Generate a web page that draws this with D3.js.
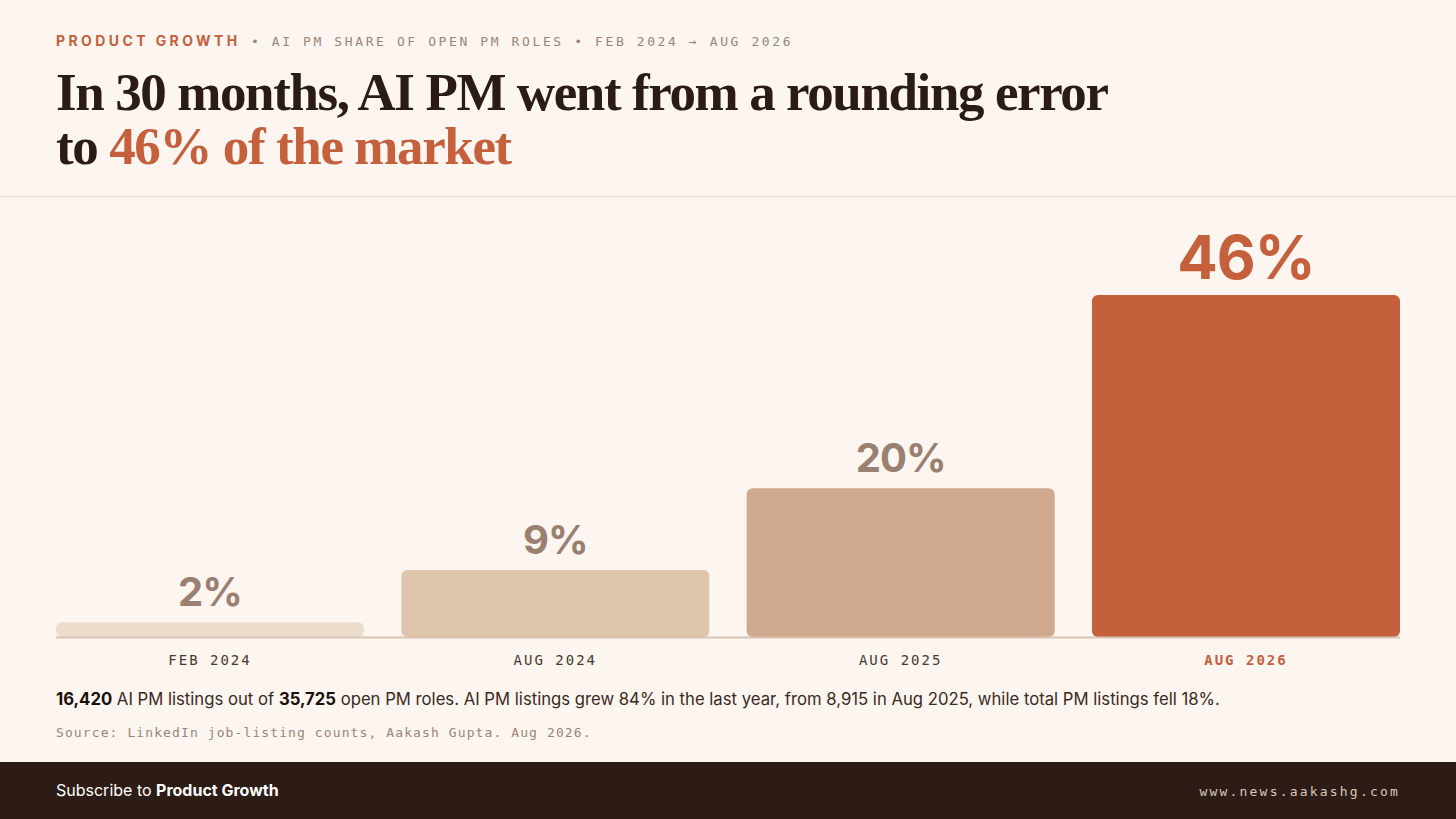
<!DOCTYPE html>
<html><head><meta charset="utf-8">
<script src="https://cdn.jsdelivr.net/npm/d3@7"></script>
<style>body{margin:0;background:#fcf5f0;}svg{display:block}</style>
</head><body>
<svg id="c" width="1456" height="819"></svg>
<script>
const categories = ["FEB 2024","AUG 2024","AUG 2025","AUG 2026"];
const values = [2, 9, 20, 46];
const labels = ["2%","9%","20%","46%"];
const barColors = ["#ecdccb","#e0c5ad","#cfaa8e","#c5603c"];
const labelColors = ["#9a8070","#9a8070","#9a8070","#c5603c"];

const svg = d3.select("#c");
const W = 1456;
const mono = "'DejaVu Sans Mono', monospace";
const sans = "Inter, 'Noto Sans', sans-serif";
const serif = "'Liberation Serif', serif";

svg.append("rect").attr("width",W).attr("height",819).attr("fill","#fcf5f0");

const kick = svg.append("text").attr("x",56).attr("y",46).attr("font-family",mono).attr("font-size",14).attr("letter-spacing",2);
kick.append("tspan").attr("fill","#c5603c").attr("font-weight","bold").attr("font-family",sans).attr("letter-spacing",3.4).text("PRODUCT GROWTH");
kick.append("tspan").attr("fill","#9a8578").attr("font-size",13).attr("letter-spacing",2.6).text("  •  AI PM SHARE OF OPEN PM ROLES  •  FEB 2024 → AUG 2026");

svg.append("text").attr("x",56).attr("y",110).attr("font-family",serif).attr("font-weight","bold").attr("font-size",53).attr("fill","#2a1b15").attr("letter-spacing",-1.4).text("In 30 months, AI PM went from a rounding error");
const t2 = svg.append("text").attr("x",56).attr("y",164).attr("font-family",serif).attr("font-weight","bold").attr("font-size",53).attr("fill","#2a1b15").attr("letter-spacing",-1.4);
t2.append("tspan").text("to ");
t2.append("tspan").attr("fill","#c5603c").text("46% of the market");

svg.append("line").attr("x1",0).attr("x2",W).attr("y1",196.5).attr("y2",196.5).attr("stroke","#e3d8cc");

const x = d3.scaleBand().domain(categories).range([56,1400]).paddingInner(0.108).paddingOuter(0);
const y = d3.scaleLinear().domain([0,46]).range([637,295]);

const g = svg.append("g");
g.selectAll("rect.bar").data(values).join("rect").attr("class","bar")
  .attr("x",(d,i)=>x(categories[i])).attr("width",x.bandwidth())
  .attr("y",d=>y(d)).attr("height",d=>y(0)-y(d)).attr("rx",6).attr("fill",(d,i)=>barColors[i]);
g.selectAll("text.val").data(values).join("text").attr("class","val")
  .attr("x",(d,i)=>x(categories[i])+x.bandwidth()/2).attr("y",d=>y(d)-16)
  .attr("text-anchor","middle").attr("font-family",sans).attr("font-weight","bold")
  .attr("font-size",(d,i)=>i==3?60:40).attr("letter-spacing",-1)
  .attr("fill",(d,i)=>labelColors[i]).text((d,i)=>labels[i]);

svg.append("line").attr("x1",56).attr("x2",1400).attr("y1",637.5).attr("y2",637.5).attr("stroke","#d9c4b2").attr("stroke-width",2);

const ax = svg.append("g").attr("transform","translate(0,637)").call(d3.axisBottom(x).tickSize(0).tickPadding(18));
ax.select(".domain").remove();
ax.selectAll("text").attr("font-family",mono).attr("font-size",14).attr("letter-spacing",2)
  .attr("fill",(d,i)=>i==3?"#c5603c":"#4a3a32").attr("font-weight",(d,i)=>i==3?"bold":"normal");

const note = svg.append("text").attr("x",56).attr("y",705).attr("font-family",sans).attr("font-size",16.7).attr("fill","#3a2a22");
note.append("tspan").attr("font-weight","bold").attr("fill","#1a100c").text("16,420");
note.append("tspan").text(" AI PM listings out of ");
note.append("tspan").attr("font-weight","bold").attr("fill","#1a100c").text("35,725");
note.append("tspan").text(" open PM roles. AI PM listings grew 84% in the last year, from 8,915 in Aug 2025, while total PM listings fell 18%.");

svg.append("text").attr("x",56).attr("y",737).attr("font-family",mono).attr("font-size",13).attr("letter-spacing",1.1).attr("fill","#9a8578").text("Source: LinkedIn job-listing counts, Aakash Gupta. Aug 2026.");

svg.append("rect").attr("x",0).attr("y",762).attr("width",W).attr("height",57).attr("fill","#2c1c15");
const sub = svg.append("text").attr("x",56).attr("y",796).attr("font-family",sans).attr("font-size",16).attr("fill","#ffffff");
sub.append("tspan").text("Subscribe to ");
sub.append("tspan").attr("font-weight","bold").text("Product Growth");
svg.append("text").attr("x",1400).attr("y",796).attr("text-anchor","end").attr("font-family",mono).attr("font-size",13).attr("letter-spacing",2.2).attr("fill","#d8c8bc").text("www.news.aakashg.com");
</script>
</body></html>
